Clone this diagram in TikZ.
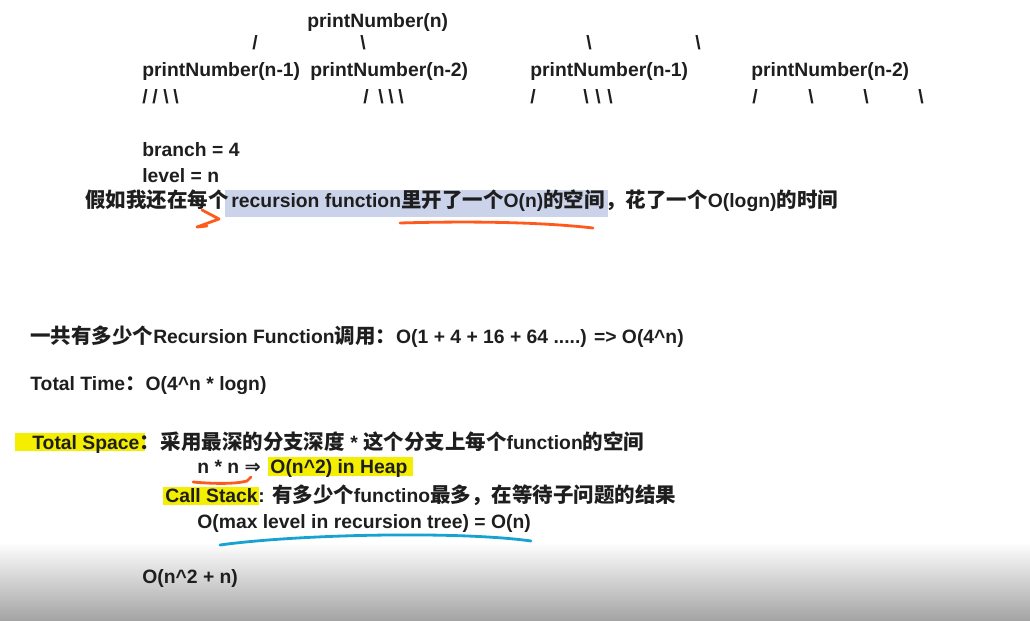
\documentclass[tikz,border=0pt]{standalone}
\usepackage{fontspec}
\setmainfont{Liberation Sans}
\newfontfamily\cjk[Scale=1.06]{Noto Sans CJK SC}
\newfontfamily\symfont{DejaVu Sans}
\usetikzlibrary{backgrounds}

\definecolor{ink}{HTML}{1E1E1E}
\definecolor{selblue}{HTML}{CBD3EA}
\definecolor{hlyellow}{HTML}{F4EE00}
\definecolor{penorange}{HTML}{FF5A1E}
\definecolor{penblue}{HTML}{17A2D2}

\newcommand{\zhtxt}[1]{{\cjk #1}}
\newcommand{\bsl}{\textbackslash}
\newcommand{\crt}{\textasciicircum}

\begin{document}
\begin{tikzpicture}[x=0.02cm, y=-0.02cm,
  every node/.style={font=\fontsize{11}{13}\selectfont\bfseries, text=ink, inner sep=0pt, anchor=base west},
  pen/.style={line width=1.6pt, line cap=round, line join=round}]
  \useasboundingbox (0,0) rectangle (1030,621);
  \shade[top color=white, bottom color=black!36] (0,542) rectangle (1030,621);

  % call tree
  \node (root) at (307,28) {printNumber(n)};
  \foreach \x [count=\i] in {252} \node (up\i) at (\x,50) {/};
  \foreach \x [count=\i] in {360,586,695} \node (dn\i) at (\x,50) {\bsl};
  \node (n1) at (142,77) {printNumber(n-1)};
  \node (n2) at (310,77) {printNumber(n-2)};
  \node (n3) at (530,77) {printNumber(n-1)};
  \node (n4) at (751,77) {printNumber(n-2)};
  \foreach \x [count=\i] in {142,152,363,530,752} \node (lup\i) at (\x,104) {/};
  \foreach \x [count=\i] in {163,173,378,388,398,583,595,607,808,863,918} \node (ldn\i) at (\x,104) {\bsl};

  \node (branch) at (142,157) {branch = 4};
  \node (level) at (142,183) {level = n};

  % per-call cost
  \node (q1) at (85,208) {\zhtxt{假如我还在每个}};
  \node (q2) at ([shift={(2,0)}]q1.base east) {recursion function\zhtxt{里开了一个}O(n)\zhtxt{的空间}};
  \node (q3) at (q2.base east) {\zhtxt{，花了一个}O(logn)\zhtxt{的时间}};

  % totals
  \node (calls) at (30,343) {\zhtxt{一共有多少个}Recursion Function\zhtxt{调用：}O(1 + 4 + 16 + 64 .....) => O(4\crt n)};
  \node (time) at (30,390) {Total Time\zhtxt{：}O(4\crt n * logn)};
  \node (space) at (32,449) {Total Space\zhtxt{：}};
  \node (space2) at (space.base east) {\zhtxt{采用最深的分支深度} * \zhtxt{这个分支上每个}function\zhtxt{的空间}};
  \node (nn) at (197,473) {n * n {\symfont ⇒}};
  \node (heap) at ([shift={(9,0)}]nn.base east) {O(n\crt 2) in Heap};
  \node (stack) at (165,502) {Call Stack};
  \node (stack2) at (stack.base east) {: \zhtxt{有多少个}functino\zhtxt{最多，在等待子问题的结果}};
  \node (maxlvl) at (197,528) {O(max level in recursion tree) = O(n)};
  \node (total) at (142,583) {O(n\crt 2 + n)};

  \begin{scope}[on background layer]
    \fill[selblue] ([shift={(-6,9)}]q2.base west) rectangle ([shift={(3,-18)}]q2.base east);
    \fill[hlyellow] ([shift={(-17,2)}]space.base west) rectangle ([shift={(-15,-16)}]space.base east);
    \fill[hlyellow] ([shift={(-2,3)}]heap.base west) rectangle ([shift={(5,-16)}]heap.base east);
    \fill[hlyellow] ([shift={(-2,3)}]stack.base west) rectangle ([shift={(1,-15)}]stack.base east);
  \end{scope}

  % pen marks
  \draw[pen, penorange] (202,210) -- (219,219) -- (197,227) -- (207,226);
  \draw[pen, penorange] (400,223) .. controls (470,221) and (540,222) .. (593,228);
  \draw[pen, penorange] (193,482) .. controls (215,484) and (236,484) .. (247,481) -- (251,477);
  \draw[pen, penblue] (220,545) .. controls (300,534) and (460,531) .. (531,541);
\end{tikzpicture}
\end{document}
